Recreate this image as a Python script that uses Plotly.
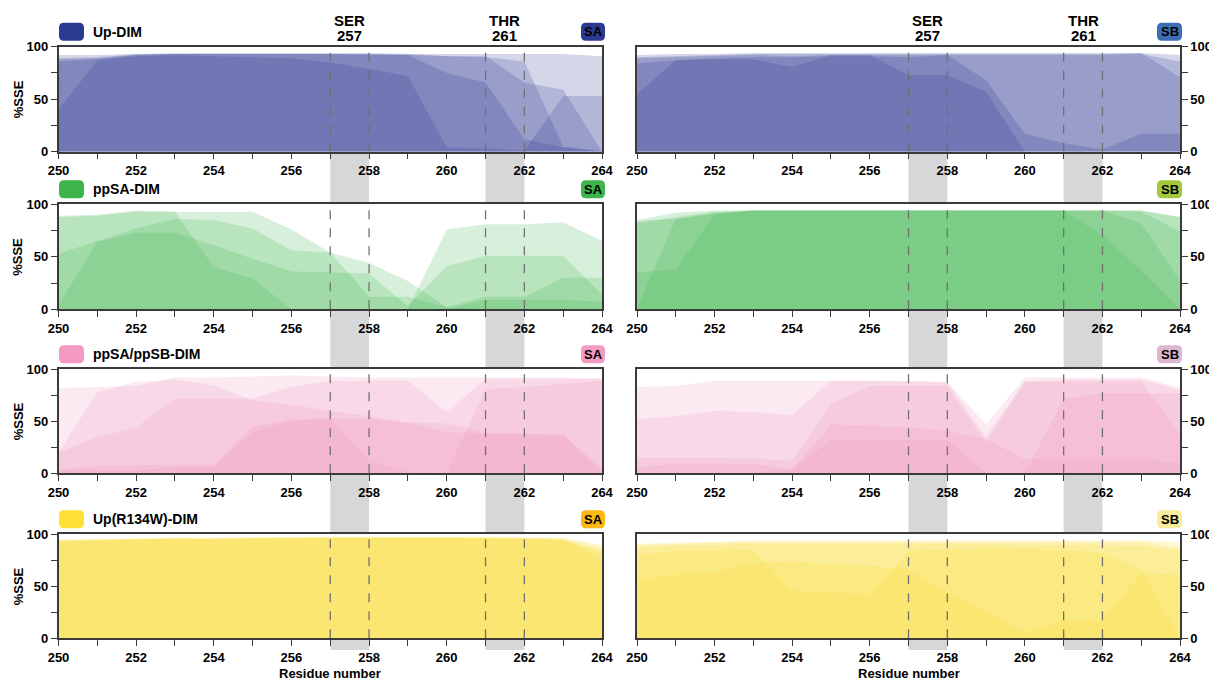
import plotly.graph_objects as go

# page is rendered with an 8px body margin; figure fills the rest of the window
OFF = 8
W, H = 1217 - OFF, 682 - OFF

residues = list(range(250, 265))
x_tick_labels = [str(r) if r % 2 == 0 else "" for r in residues]
y_tick_vals = [0, 25, 50, 75, 100]
y_tick_labels = ["0", "", "50", "", "100"]

systems = ["Up-DIM", "ppSA-DIM", "ppSA/ppSB-DIM", "Up(R134W)-DIM"]
chains = ["SA", "SB"]
highlight_x = [257.5, 261.5]
highlight_names = [("SER", "257"), ("THR", "261")]
boundary_residues = [257, 258, 261, 262]

# ---- Up-DIM ----
up_sa_r1 = [92, 92, 93, 94, 94, 94, 94, 94, 94, 93, 93, 93, 93, 93, 91]
up_sa_r2 = [89, 90, 93, 93, 93, 93, 93, 93, 93, 92, 91, 90, 86, 5, 1]
up_sa_r3 = [86, 88, 92, 93, 93, 93, 93, 93, 92, 92, 75, 66, 12, 4, 0]
up_sa_r4 = [40, 87, 91, 92, 91, 90, 89, 85, 79, 72, 4, 3, 1, 53, 53]
up_sa_r5 = [88, 89, 92, 93, 93, 93, 93, 93, 93, 93, 91, 91, 66, 59, 0]

up_sb_r1 = [92, 93, 93, 94, 94, 94, 94, 94, 94, 94, 94, 94, 94, 94, 92]
up_sb_r2 = [89, 90, 91, 92, 91, 92, 92, 92, 92, 92, 92, 92, 92, 93, 86]
up_sb_r3 = [84, 87, 88, 88, 81, 92, 92, 73, 73, 57, 0, 0, 0, 0, 0]
up_sb_r4 = [55, 87, 89, 90, 90, 91, 91, 90, 92, 68, 17, 8, 2, 17, 17]
up_sb_r5 = [90, 91, 92, 93, 93, 93, 93, 93, 93, 93, 93, 93, 93, 94, 71]

# ---- ppSA-DIM ----
ppsa_sa_r1 = [89, 90, 94, 93, 40, 29, 0, 0, 0, 0, 0, 9, 9, 9, 7]
ppsa_sa_r2 = [53, 65, 77, 86, 85, 77, 56, 54, 12, 12, 2, 12, 12, 30, 30]
ppsa_sa_r3 = [4, 64, 73, 73, 61, 48, 36, 35, 34, 3, 41, 51, 51, 51, 14]
ppsa_sa_r4 = [88, 89, 93, 93, 93, 93, 76, 54, 44, 27, 2, 0, 0, 0, 0]
ppsa_sa_r5 = [0, 0, 0, 0, 0, 0, 0, 0, 0, 0, 76, 81, 81, 83, 65]

ppsa_sb_r1 = [85, 92, 94, 94, 94, 94, 94, 94, 94, 94, 94, 94, 94, 94, 88]
ppsa_sb_r2 = [84, 86, 91, 94, 94, 94, 94, 94, 94, 94, 94, 94, 94, 93, 74]
ppsa_sb_r3 = [35, 38, 90, 94, 94, 94, 94, 94, 94, 94, 94, 94, 94, 82, 27]
ppsa_sb_r4 = [0, 86, 92, 94, 94, 94, 94, 94, 94, 94, 94, 94, 70, 37, 0]
ppsa_sb_r5 = [82, 88, 93, 94, 94, 94, 94, 94, 94, 94, 94, 94, 94, 94, 88]

# ---- ppSA/ppSB-DIM ----
ppsab_sa_r1 = [82, 83, 84, 92, 92, 93, 94, 93, 92, 92, 92, 92, 92, 92, 91]
ppsab_sa_r2 = [20, 78, 88, 90, 85, 70, 66, 60, 55, 49, 48, 39, 38, 37, 1]
ppsab_sa_r3 = [20, 35, 44, 72, 72, 72, 83, 89, 89, 89, 59, 91, 91, 91, 91]
ppsab_sa_r4 = [4, 7, 8, 8, 8, 45, 52, 53, 53, 48, 40, 38, 38, 37, 5]
ppsab_sa_r5 = [2, 3, 3, 6, 6, 40, 50, 53, 12, 1, 0, 81, 83, 86, 89]

ppsab_sb_r1 = [83, 84, 89, 89, 89, 89, 89, 89, 88, 47, 92, 92, 92, 92, 82]
ppsab_sb_r2 = [52, 55, 60, 59, 56, 89, 89, 88, 87, 35, 88, 90, 90, 90, 80]
ppsab_sb_r3 = [15, 15, 15, 14, 12, 67, 84, 84, 84, 30, 88, 88, 88, 88, 38]
ppsab_sb_r4 = [6, 9, 9, 9, 4, 47, 46, 44, 41, 33, 14, 14, 14, 14, 10]
ppsab_sb_r5 = [0, 0, 0, 0, 4, 32, 32, 32, 32, 0, 0, 72, 77, 77, 77]

# ---- Up(R134W)-DIM ----
r134w_sa_r1 = [95, 96, 96, 97, 97, 97, 97, 98, 98, 98, 98, 98, 97, 97, 90]
r134w_sa_r2 = [94, 95, 96, 96, 96, 97, 97, 97, 97, 97, 97, 97, 97, 96, 88]
r134w_sa_r3 = [94, 95, 95, 96, 96, 97, 97, 97, 97, 97, 97, 97, 96, 95, 82]
r134w_sa_r4 = [93, 94, 95, 96, 95, 96, 97, 97, 97, 97, 97, 96, 96, 95, 74]
r134w_sa_r5 = [93, 94, 95, 96, 95, 96, 96, 96, 96, 96, 96, 96, 96, 94, 85]

r134w_sb_r1 = [91, 92, 93, 94, 94, 94, 94, 94, 94, 94, 94, 94, 94, 94, 92]
r134w_sb_r2 = [90, 91, 92, 93, 93, 93, 93, 93, 93, 93, 93, 93, 93, 93, 87]
r134w_sb_r3 = [80, 84, 85, 85, 46, 44, 42, 84, 85, 86, 86, 84, 82, 66, 0]
r134w_sb_r4 = [55, 61, 64, 72, 74, 71, 70, 66, 44, 26, 5, 18, 17, 63, 61]
r134w_sb_r5 = [88, 89, 90, 91, 91, 91, 91, 91, 91, 91, 90, 90, 90, 89, 85]

panels = [
    [[up_sa_r1, up_sa_r2, up_sa_r3, up_sa_r4, up_sa_r5],
     [up_sb_r1, up_sb_r2, up_sb_r3, up_sb_r4, up_sb_r5]],
    [[ppsa_sa_r1, ppsa_sa_r2, ppsa_sa_r3, ppsa_sa_r4, ppsa_sa_r5],
     [ppsa_sb_r1, ppsa_sb_r2, ppsa_sb_r3, ppsa_sb_r4, ppsa_sb_r5]],
    [[ppsab_sa_r1, ppsab_sa_r2, ppsab_sa_r3, ppsab_sa_r4, ppsab_sa_r5],
     [ppsab_sb_r1, ppsab_sb_r2, ppsab_sb_r3, ppsab_sb_r4, ppsab_sb_r5]],
    [[r134w_sa_r1, r134w_sa_r2, r134w_sa_r3, r134w_sa_r4, r134w_sa_r5],
     [r134w_sb_r1, r134w_sb_r2, r134w_sb_r3, r134w_sb_r4, r134w_sb_r5]],
]

fill_rgb = [(43, 57, 144), (61, 181, 74), (242, 150, 192), (250, 220, 45)]
fill_alpha = 0.2
swatch_colors = ["#2B3990", "#3DB54A", "#F49AC2", "#FFE135"]
badge_colors = [["#2B3990", "#3E6DB5"], ["#3DB54A", "#A2C83C"],
                ["#F49AC2", "#DDB7D0"], ["#FDB913", "#F6EE9C"]]

FONT = "Liberation Sans, Arial, sans-serif"
AX_COLOR = "#3a3a3a"

# positions measured in page pixels
col_px = [(58.5, 602.0), (637.0, 1180.0)]
row_px = [(46.7, 151.7), (204.3, 309.3), (369.3, 473.3), (534.3, 638.3)]


def px_x(x):
    return (x - OFF) / W


def px_y(y):
    return 1 - (y - OFF) / H


def rrect(x0, y0, x1, y1, r):
    def P(x, y):
        return f"{px_x(x):.5f},{px_y(y):.5f}"
    return (f"M {P(x0 + r, y0)} L {P(x1 - r, y0)} Q {P(x1, y0)} {P(x1, y0 + r)} "
            f"L {P(x1, y1 - r)} Q {P(x1, y1)} {P(x1 - r, y1)} L {P(x0 + r, y1)} "
            f"Q {P(x0, y1)} {P(x0, y1 - r)} L {P(x0, y0 + r)} Q {P(x0, y0)} {P(x0 + r, y0)} Z")


fig = go.Figure()
shapes = []
annotations = []
layout_axes = {}

for r in range(4):
    for c in range(2):
        k = r * 2 + c + 1
        xa = "x" if k == 1 else f"x{k}"
        ya = "y" if k == 1 else f"y{k}"
        xkey = "xaxis" if k == 1 else f"xaxis{k}"
        ykey = "yaxis" if k == 1 else f"yaxis{k}"
        R, G, B = fill_rgb[r]
        for series in panels[r][c]:
            fig.add_trace(go.Scatter(
                x=residues, y=series, xaxis=xa, yaxis=ya,
                mode="lines", line=dict(width=0, color=f"rgba({R},{G},{B},0)"),
                fill="tozeroy", fillcolor=f"rgba({R},{G},{B},{fill_alpha})",
                hoverinfo="skip", showlegend=False))
        x0p, x1p = col_px[c]
        t, b = row_px[r]
        layout_axes[xkey] = dict(
            domain=[px_x(x0p), px_x(x1p)], anchor=ya, range=[250, 264],
            automargin=False,
            tickmode="array", tickvals=residues,
            ticktext=[f"<b>{s}</b>" if s else "" for s in x_tick_labels],
            ticks="outside", ticklen=6, tickwidth=1.3, tickcolor=AX_COLOR,
            showline=True, linecolor=AX_COLOR, linewidth=1.5, mirror=True,
            showgrid=False, zeroline=False,
            tickfont=dict(family=FONT, size=13, color="black"))
        layout_axes[ykey] = dict(
            domain=[px_y(b), px_y(t)], anchor=xa, range=[0, 100],
            automargin=False,
            side="left" if c == 0 else "right",
            tickmode="array", tickvals=y_tick_vals,
            ticktext=[f"<b>{s}</b>" if s else "" for s in y_tick_labels],
            ticks="outside", ticklen=6, tickwidth=1.3, tickcolor=AX_COLOR,
            showline=True, linecolor=AX_COLOR, linewidth=1.5, mirror=True,
            showgrid=False, zeroline=False,
            tickfont=dict(family=FONT, size=13, color="black"))
        for bx in boundary_residues:
            shapes.append(dict(type="line", xref=xa, yref=ya, x0=bx, x1=bx, y0=0, y1=100,
                               line=dict(color="#707070", width=1.3, dash="dash"), layer="above"))
        bx0, bx1 = (581, 605) if c == 0 else (1157, 1182)
        shapes.append(dict(type="path", xref="paper", yref="paper",
                           path=rrect(bx0, t - 24, bx1, t - 6, 5),
                           fillcolor=badge_colors[r][c], line=dict(width=0), layer="above"))
        annotations.append(dict(x=px_x((bx0 + bx1) / 2), y=px_y(t - 15), xref="paper", yref="paper",
                                text=f"<b>{chains[c]}</b>", showarrow=False,
                                xanchor="center", yanchor="middle",
                                font=dict(family=FONT, size=13, color="black")))
    t, b = row_px[r]
    shapes.append(dict(type="path", xref="paper", yref="paper",
                       path=rrect(59, t - 24, 84, t - 6, 5),
                       fillcolor=swatch_colors[r], line=dict(width=0), layer="above"))
    annotations.append(dict(x=px_x(91), y=px_y(t - 15), xref="paper", yref="paper",
                            text=f"<b>{systems[r]}</b>", showarrow=False,
                            xanchor="left", yanchor="middle",
                            font=dict(family=FONT, size=14, color="black")))
    annotations.append(dict(x=px_x(18), y=px_y((t + b) / 2), xref="paper", yref="paper",
                            text="<b>%SSE</b>", showarrow=False, textangle=-90,
                            xanchor="center", yanchor="middle",
                            font=dict(family=FONT, size=13, color="black")))

gaps = [(row_px[0][1], row_px[1][0]), (row_px[1][1], row_px[2][0]),
        (row_px[2][1], row_px[3][0]), (row_px[3][1], 650)]
for c in range(2):
    xa = "x" if c == 0 else "x2"
    for hx in highlight_x:
        for g0, g1 in gaps:
            shapes.append(dict(type="rect", xref=xa, yref="paper",
                               x0=hx - 0.5, x1=hx + 0.5, y0=px_y(g1), y1=px_y(g0),
                               fillcolor="#D6D7D9", line=dict(width=0), layer="below"))
    for hx, (name, num) in zip(highlight_x, highlight_names):
        annotations.append(dict(x=hx, y=px_y(20.5), xref=xa, yref="paper",
                                text=f"<b>{name}</b>", showarrow=False,
                                xanchor="center", yanchor="middle",
                                font=dict(family=FONT, size=15, color="black")))
        annotations.append(dict(x=hx, y=px_y(35.5), xref=xa, yref="paper",
                                text=f"<b>{num}</b>", showarrow=False,
                                xanchor="center", yanchor="middle",
                                font=dict(family=FONT, size=15, color="black")))
    x0p, x1p = col_px[c]
    annotations.append(dict(x=px_x((x0p + x1p) / 2), y=px_y(673), xref="paper", yref="paper",
                            text="<b>Residue number</b>", showarrow=False,
                            xanchor="center", yanchor="middle",
                            font=dict(family=FONT, size=13, color="black")))

fig.update_layout(
    template="none",
    width=W, height=H, autosize=False,
    margin=dict(l=0, r=0, t=0, b=0, pad=0, autoexpand=False),
    paper_bgcolor="white", plot_bgcolor="white",
    showlegend=False, shapes=shapes, annotations=annotations,
    font=dict(family=FONT, color="black"),
    **layout_axes)

fig.write_html("out.html")
